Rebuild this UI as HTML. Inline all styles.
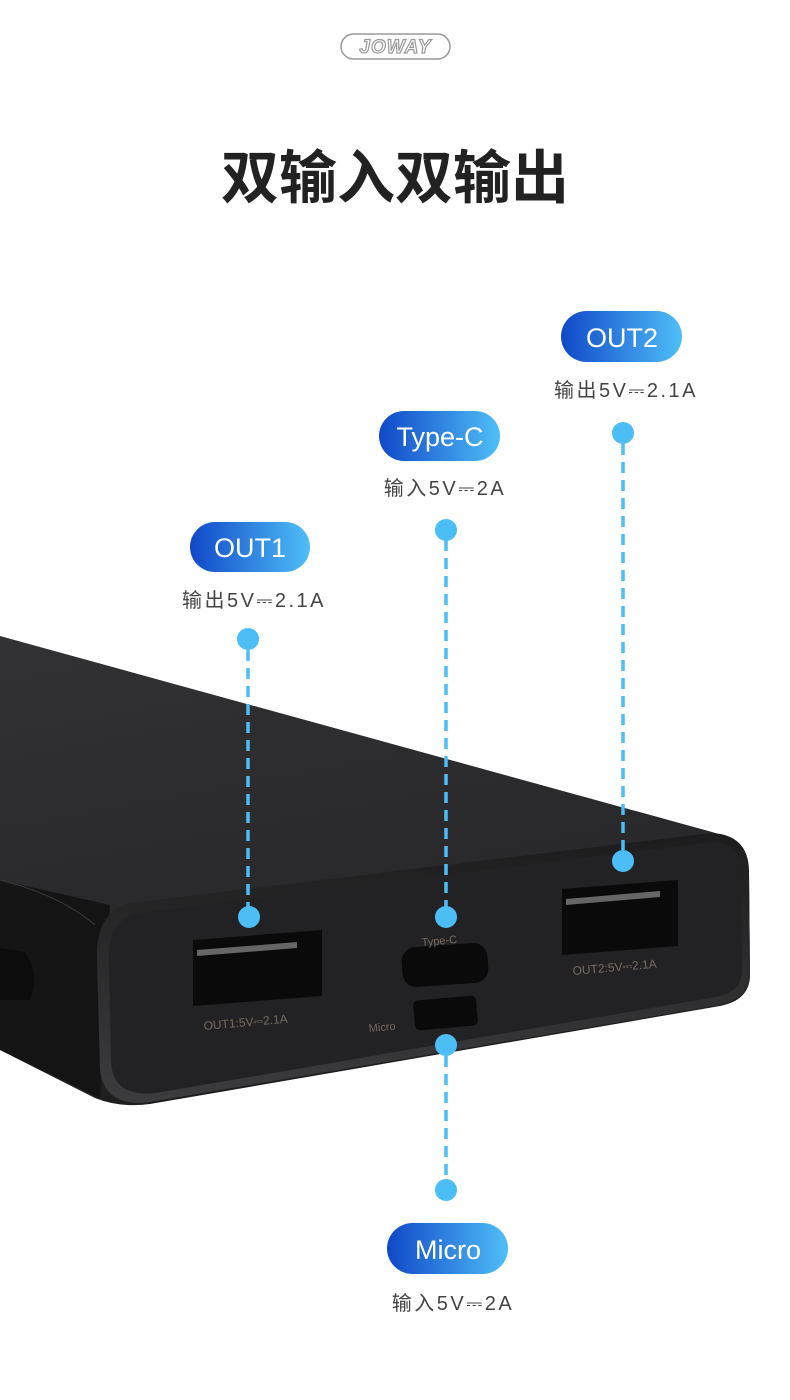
<!DOCTYPE html>
<html><head><meta charset="utf-8"><style>
html,body{margin:0;padding:0;background:#fff;}
body{width:790px;height:1400px;overflow:hidden;position:relative;}
svg{position:absolute;left:0;top:0;}
</style></head><body>
<svg width="790" height="1400" viewBox="0 0 790 1400" xmlns="http://www.w3.org/2000/svg">
<defs>
<linearGradient id="pill" x1="0" x2="1" y1="0" y2="0">
<stop offset="0" stop-color="#1148c8"/><stop offset="1" stop-color="#4fbef7"/>
</linearGradient>
<linearGradient id="top" x1="0" y1="0" x2="0.3" y2="1">
<stop offset="0" stop-color="#323234"/><stop offset="0.7" stop-color="#28282a"/><stop offset="1" stop-color="#1c1c1d"/>
</linearGradient>
<linearGradient id="bez" x1="0" y1="0" x2="0" y2="1">
<stop offset="0" stop-color="#1c1c1d"/><stop offset="1" stop-color="#3c3c3e"/>
</linearGradient>
</defs>
<rect x="341" y="34" width="109" height="25" rx="12.5" fill="none" stroke="#9a9a9a" stroke-width="1.5"/>
<text x="395.5" y="53" text-anchor="middle" font-family="Liberation Sans, sans-serif" font-size="19" font-style="italic" font-weight="bold" fill="none" stroke="#999" stroke-width="1.2" letter-spacing="1">JOWAY</text>
<text x="395" y="198" text-anchor="middle" font-family="Liberation Sans, 'Noto Sans CJK SC', sans-serif" font-size="58" font-weight="bold" fill="#222">双输入双输出</text>

<path d="M0,636 L712,832 Q748,842 749,875 L750,975 Q750,1000 720,1006 L150,1104 Q120,1108 95,1098 L0,1050 Z" fill="url(#top)"/>
<path d="M0,880 L110,905 L100,1098 L0,1050 Z" fill="#141415"/>
<path d="M0,880 Q60,895 95,925" stroke="#3a3a3c" stroke-width="1" fill="none"/>
<path d="M0,948 L25,952 Q40,975 30,1000 L0,1000 Z" fill="#0c0c0d"/>
<path d="M130,903 L712,833 Q748,835 749,870 L750,975 Q749,998 720,1005 L150,1102 Q105,1108 100,1070 L97,960 Q95,912 130,903 Z" fill="url(#bez)"/>
<path d="M138,913 L712,842 Q740,842 741,870 L742,972 Q741,992 716,997 L156,1093 Q113,1098 111,1062 L109,960 Q108,920 138,913 Z" fill="#222224"/>
<path d="M193,940 L322,930 L322,996 L193,1006 Z" fill="#0a0a0a"/>
<path d="M197,950 L297,942 L297,948 L197,956 Z" fill="#666"/>
<path d="M562,889 L678,880 L678,946 L562,955 Z" fill="#0a0a0a"/>
<path d="M566,899 L660,891 L660,897 L566,905 Z" fill="#666"/>
<rect x="402" y="945" width="86" height="40" rx="14" fill="#0a0a0a" transform="rotate(-4 445 965)"/>
<rect x="414" y="998" width="63" height="30" rx="5" fill="#0a0a0a" transform="rotate(-5 445 1013)"/>
<g font-family="Liberation Sans, sans-serif" font-size="12" fill="#7a6a60">
<text x="204" y="1030" transform="rotate(-5 204 1030)">OUT1:5V⎓2.1A</text>
<text x="573" y="975" transform="rotate(-5 573 975)">OUT2:5V⎓2.1A</text>
<text x="422" y="946" font-size="11" transform="rotate(-5 422 946)">Type-C</text>
<text x="369" y="1032" font-size="11" transform="rotate(-5 369 1032)">Micro</text>
</g>

<g stroke="#4dbdf5" stroke-width="3.5" stroke-dasharray="11,7" fill="none">
<line x1="248" y1="650" x2="248" y2="907"/>
<line x1="446" y1="540" x2="446" y2="907"/>
<line x1="623" y1="444" x2="623" y2="850"/>
<line x1="446" y1="1056" x2="446" y2="1180"/>
</g>
<g fill="#4dbdf5">
<circle cx="248" cy="639" r="11"/><circle cx="249" cy="917" r="11"/>
<circle cx="446" cy="530" r="11"/><circle cx="446" cy="917" r="11"/>
<circle cx="623" cy="433" r="11"/><circle cx="623" cy="861" r="11"/>
<circle cx="446" cy="1045" r="11"/><circle cx="446" cy="1190" r="11"/>
</g>

<g font-family="Liberation Sans, sans-serif" font-size="27" fill="#fff" text-anchor="middle">
<rect x="190" y="522" width="120" height="50" rx="25" fill="url(#pill)"/>
<text x="250" y="557">OUT1</text>
<rect x="379" y="411" width="121" height="50" rx="25" fill="url(#pill)"/>
<text x="440" y="446">Type-C</text>
<rect x="561" y="311" width="121" height="51" rx="25.5" fill="url(#pill)"/>
<text x="622" y="347">OUT2</text>
<rect x="387" y="1223" width="121" height="51" rx="25.5" fill="url(#pill)"/>
<text x="448" y="1259">Micro</text>
</g>
<g font-family="Liberation Sans, 'Noto Sans CJK SC', sans-serif" font-size="20" fill="#444" text-anchor="middle" letter-spacing="2.5">
<text x="254" y="607">输出5V⎓2.1A</text>
<text x="445" y="495">输入5V⎓2A</text>
<text x="626" y="397">输出5V⎓2.1A</text>
<text x="453" y="1310">输入5V⎓2A</text>
</g>
</svg>
</body></html>
